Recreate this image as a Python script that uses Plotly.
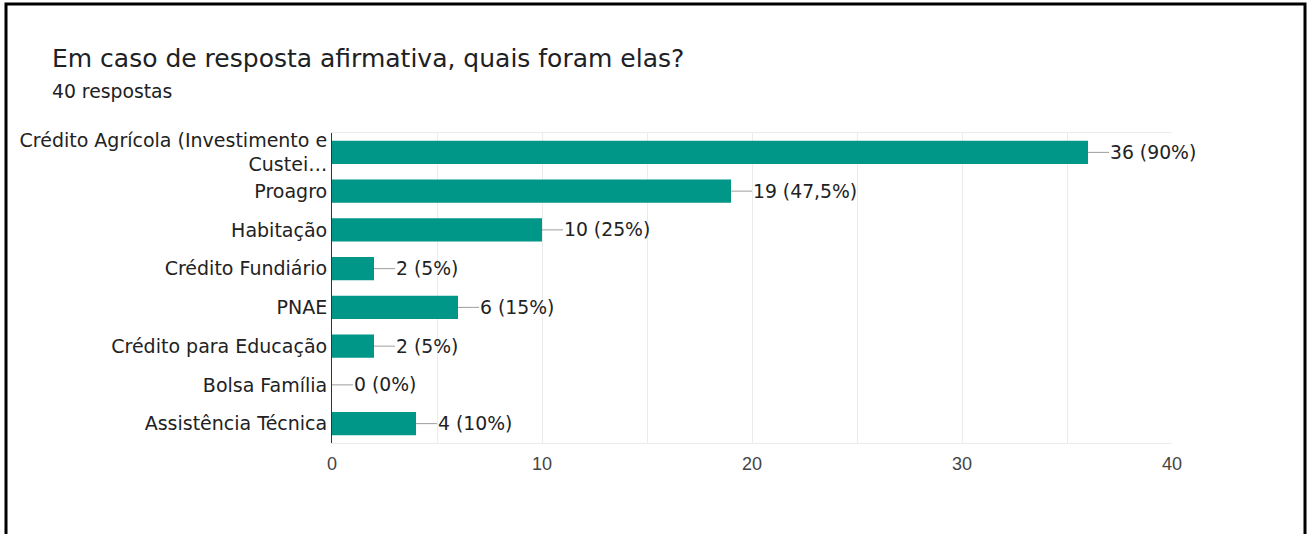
import plotly.graph_objects as go

# ---- data ----
categories = [
    "Crédito Agrícola (Investimento e<br>Custei…",
    "Proagro",
    "Habitação",
    "Crédito Fundiário",
    "PNAE",
    "Crédito para Educação",
    "Bolsa Família",
    "Assistência Técnica",
]
counts = [36, 19, 10, 2, 6, 2, 0, 4]
labels = ["36 (90%)", "19 (47,5%)", "10 (25%)", "2 (5%)", "6 (15%)", "2 (5%)", "0 (0%)", "4 (10%)"]
x_ticks = [0, 10, 20, 30, 40]
title_text = "Em caso de resposta afirmativa, quais foram elas?"
subtitle_text = "40 respostas"

W, H = 1313, 534
L, R, T, B = 332, 141, 133, 91
pw, ph = W - L - R, H - T - B

def px_x(px):
    return (px - L) / pw

def px_y(py):
    return (H - B - py) / ph

LABEL_FONT = "DejaVu Sans, Verdana, sans-serif"

fig = go.Figure()
fig.add_trace(go.Bar(
    x=counts, y=categories, orientation="h",
    marker=dict(color="#009688", line=dict(width=0)),
    hoverinfo="skip",
))

annotations = []
for c, v, lab in zip(categories, counts, labels):
    annotations.append(dict(
        x=v, y=c, xref="x", yref="y", text=lab,
        showarrow=True, arrowhead=0, arrowwidth=1, arrowcolor="#9e9e9e",
        ax=21, ay=0, xanchor="left", yanchor="middle",
        font=dict(family=LABEL_FONT, size=18.8, color="#222222"),
        borderpad=0, standoff=0, startstandoff=0,
    ))

annotations.append(dict(
    x=px_x(50), y=px_y(92), xref="paper", yref="paper", text=subtitle_text,
    showarrow=False, xanchor="left", yanchor="middle",
    font=dict(family=LABEL_FONT, size=18.8, color="#202124"),
))
annotations.append(dict(
    x=px_x(50), y=px_y(58), xref="paper", yref="paper", text=title_text,
    showarrow=False, xanchor="left", yanchor="middle",
    font=dict(family=LABEL_FONT, size=25, color="#202124"),
))

fig.update_layout(
    width=W, height=H,
    margin=dict(l=L, r=R, t=T, b=B, pad=0),
    paper_bgcolor="white", plot_bgcolor="white",
    showlegend=False,
    bargap=0.4,
    annotations=annotations,
    shapes=[dict(
        type="rect", xref="paper", yref="paper",
        x0=px_x(6), x1=px_x(1305), y0=px_y(4), y1=px_y(560),
        line=dict(color="black", width=3), fillcolor="rgba(0,0,0,0)", layer="above",
    )],
)
fig.update_xaxes(
    range=[0, 40], tickvals=x_ticks, ticktext=[str(t) for t in x_ticks],
    showgrid=True, gridcolor="#ebebeb", gridwidth=1,
    minor=dict(dtick=5, showgrid=True, gridcolor="#ebebeb", gridwidth=1),
    zeroline=False, showline=True, mirror=True, linecolor="#ebebeb", linewidth=1,
    ticks="", ticklabelstandoff=4,
    tickfont=dict(family="Liberation Sans, Arial, sans-serif", size=18, color="#444444"),
    fixedrange=True,
)
fig.update_yaxes(
    autorange="reversed", categoryorder="array", categoryarray=categories,
    showgrid=False, zeroline=False, showline=True, linecolor="#333333", linewidth=1,
    ticks="", ticklabelstandoff=0,
    tickfont=dict(family=LABEL_FONT, size=19, color="#222222"),
    fixedrange=True,
)

fig.write_html("out.html", config={"displayModeBar": False})
